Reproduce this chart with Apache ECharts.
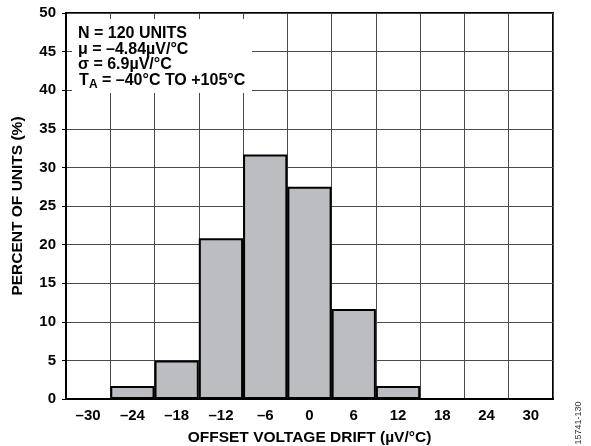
<!DOCTYPE html>
<html>
<head>
<meta charset="utf-8">
<script src="https://cdn.jsdelivr.net/npm/echarts@6/dist/echarts.min.js"></script>
<style>
html,body{margin:0;padding:0;background:#fff;}
#c{width:591px;height:446px;}
</style>
</head>
<body>
<div id="c"></div>
<script>
// Data
const categories = ['-30','-24','-18','-12','-6','0','6','12','18','24','30'];
const percentUnits = [0, 1.67, 5, 20.83, 31.67, 27.5, 11.67, 1.67, 0, 0, 0];
const yTicks = [0,5,10,15,20,25,30,35,40,45,50];
const noteLines = ['N = 120 UNITS', 'μ = –4.84µV/°C', 'σ = 6.9µV/°C'];
const noteTa = ['T', 'A', '= –40°C TO +105°C'];
const xTitle = 'OFFSET VOLTAGE DRIFT (µV/°C)';
const yTitle = 'PERCENT OF UNITS (%)';
const figId = '15741-130';

const FONT = '"Liberation Sans", Arial, Helvetica, sans-serif';
const dash = s => String(s).replace('-', '–');

const chart = echarts.init(document.getElementById('c'), null, {renderer:'canvas'});
const labelStyle = {color:'#000', fontWeight:'bold', fontSize:15, fontFamily:FONT};

chart.setOption({
  animation:false,
  backgroundColor:'#fff',
  grid:{left:66, right:38, top:13, bottom:47, containLabel:false, outerBoundsMode:'none',
        show:true, borderColor:'#000', borderWidth:2, backgroundColor:'transparent'},
  xAxis:{
    type:'category',
    data:categories,
    boundaryGap:true,
    axisLine:{show:true, lineStyle:{color:'#000', width:2}},
    axisTick:{show:false},
    axisLabel:Object.assign({margin:9, formatter:v=>dash(v)}, labelStyle),
    splitLine:{show:true, lineStyle:{color:'#4a4a4a', width:1}},
    name:xTitle,
    nameLocation:'middle',
    nameGap:31,
    nameTextStyle:{color:'#000', fontWeight:'bold', fontSize:15.5, fontFamily:FONT}
  },
  yAxis:{
    type:'value',
    min:yTicks[0], max:yTicks[yTicks.length-1], interval:5,
    axisLine:{show:true, lineStyle:{color:'#000', width:2}},
    axisTick:{show:true, length:4, lineStyle:{color:'#000', width:1}},
    axisLabel:Object.assign({margin:10}, labelStyle),
    splitLine:{show:true, lineStyle:{color:'#4a4a4a', width:1}},
    name:yTitle,
    nameLocation:'middle',
    nameGap:40,
    nameTextStyle:{color:'#000', fontWeight:'bold', fontSize:15.5, fontFamily:FONT}
  },
  series:[{
    type:'bar',
    data:percentUnits,
    barWidth:'100%',
    barCategoryGap:'0%',
    itemStyle:{color:'#bcbdc1', borderColor:'#000', borderWidth:2},
    z:3
  }],
  graphic:[
    {type:'rect', z:50, shape:{x:72, y:19, width:180, height:74}, style:{fill:'#fff'}},
    {type:'text', z:51, left:78, top:26, style:{text:noteLines[0], fill:'#000', font:'bold 16px '+FONT}},
    {type:'text', z:51, left:78, top:42, style:{text:noteLines[1], fill:'#000', font:'bold 16px '+FONT}},
    {type:'text', z:51, left:78, top:57, style:{text:noteLines[2], fill:'#000', font:'bold 16px '+FONT}},
    {type:'text', z:51, left:79, top:73, style:{text:noteTa[0], fill:'#000', font:'bold 16px '+FONT}},
    {type:'text', z:51, left:89, top:79, style:{text:noteTa[1], fill:'#000', font:'bold 12px '+FONT}},
    {type:'text', z:51, left:102, top:73, style:{text:noteTa[2], fill:'#000', font:'bold 16px '+FONT}},
    {type:'text', z:51, x:583, y:423, rotation:Math.PI/2,
     style:{text:figId, fill:'#333', font:'9px '+FONT, align:'center', verticalAlign:'bottom'}}
  ]
});
</script>
</body>
</html>
